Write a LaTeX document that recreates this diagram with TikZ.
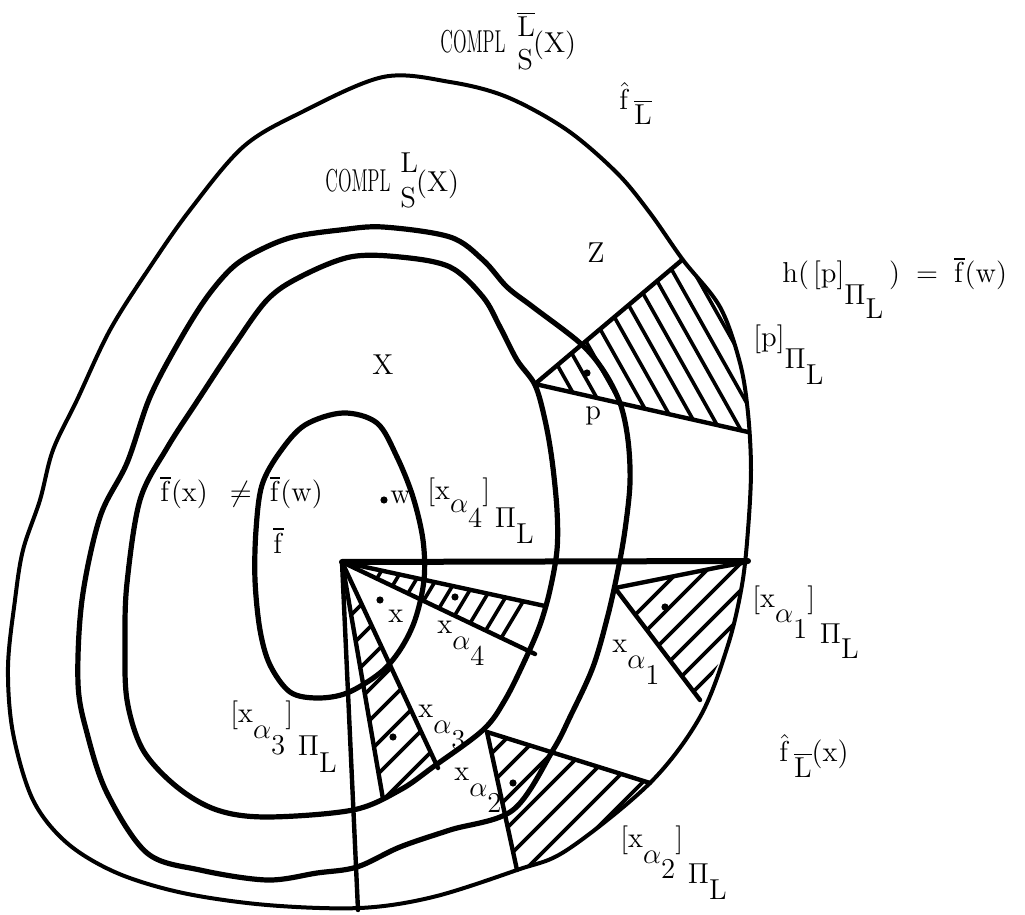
\documentclass[tikz,border=0pt]{standalone}
\usepackage{amsmath}
\usepackage{amssymb}
\usepackage{graphicx}
\usepackage{tikz}

\newcommand{\sunk}[2][8pt]{\raisebox{-#1}{#2}}
\newcommand{\stk}[4][8pt]{\rlap{\raisebox{#2}{#3}}\raisebox{-#1}{#4}}

\begin{document}
\begin{tikzpicture}[x=0.5pt,y=-0.5pt,line cap=round,line join=round,
    rim/.style={line width=2pt},
    ring/.style={line width=2.6pt},
    cut/.style={line width=2.2pt},
    hatch/.style={line width=1.8pt},
    lbl/.style={font=\Large,inner sep=0pt,anchor=base west}]
        \useasboundingbox (0,0) rectangle (1025,915);

        \coordinate (o) at (342,562);
        \coordinate (pl) at (535,384);
        \coordinate (pt) at (682,260);
        \coordinate (pb) at (748,432);
        \coordinate (hr) at (748,561);
        \coordinate (vb) at (358,910);
        \coordinate (a4u) at (545,606);
        \coordinate (a4l) at (535,654);
        \coordinate (a3l) at (383,799);
        \coordinate (a3r) at (438,768);
        \coordinate (q2) at (487,732);
        \coordinate (a2l) at (517,870);
        \coordinate (a2r) at (650,783);
        \coordinate (q1) at (615,588);
        \coordinate (a1t) at (742,563);
        \coordinate (a1b) at (700,700);

        \begin{scope}
            \clip (pl) -- (pt) -- (720,307) -- (740,363) -- (748,413) -- (pb) -- cycle;
            \foreach \c in {352,373,...,541}
                \draw[hatch] ({\c+112.5},200) -- ({\c+264.4},470);
        \end{scope}
        \begin{scope}
            \clip (q1) -- (a1t) -- (740,595) -- (728,645) -- (a1b) -- cycle;
            \foreach \c in {1250,1277,...,1385}
                \draw[hatch] ({\c-500},500) -- ({\c-760},760);
        \end{scope}
        \begin{scope}
            \clip (q2) -- (a2r) -- (600,825) -- (560,852) -- (a2l) -- cycle;
            \foreach \c in {1245,1275,...,1425}
                \draw[hatch] ({\c-700},700) -- ({\c-900},900);
        \end{scope}
        \begin{scope}
            \clip (o) -- (a3r) -- (410,786) -- (a3l) -- cycle;
            \foreach \c in {966,997,...,1183}
                \draw[hatch] ({\c-550},550) -- ({\c-820},820);
        \end{scope}
        \begin{scope}
            \clip (o) -- (a4u) -- (a4l) -- cycle;
            \foreach \c in {724,744,...,884}
                \draw[hatch] ({\c-0.6*540},540) -- ({\c-0.6*680},680);
        \end{scope}

        \draw[rim] plot[smooth cycle,tension=0.55] coordinates {(383,77) (450,82) (507,97) (567,130) (617,173) (650,213) (683,260) (720,307) (740,363) (748,413) (751,470) (748,530) (742,585) (728,645) (700,717) (650,783) (567,850) (517,870) (433,897) (360,908) (267,905) (183,893) (117,873) (67,843) (33,800) (13,733) (8,667) (15,600) (23,550) (40,500) (53,450) (77,400) (110,330) (150,267) (190,210) (243,147) (300,113)};
        \draw[ring] plot[smooth cycle,tension=0.55] coordinates {(383,227) (450,237) (483,260) (507,287) (533,307) (580,343) (603,370) (620,403) (628,440) (630,483) (625,530) (618,570) (608,615) (593,667) (570,717) (553,750) (513,810) (450,830) (400,847) (357,867) (317,873) (267,880) (200,870) (147,853) (107,793) (87,733) (78,683) (82,600) (100,517) (127,463) (150,397) (180,340) (207,297) (233,267) (260,250) (293,237) (340,230)};
        \draw[ring] plot[smooth cycle,tension=0.55] coordinates {(300,277) (350,257) (400,257) (450,267) (483,297) (500,327) (517,360) (535,385) (545,420) (552,460) (557,510) (557,550) (550,590) (540,625) (525,660) (505,700) (483,730) (433,767) (400,790) (353,810) (267,817) (217,810) (177,787) (143,750) (127,700) (125,640) (127,583) (140,500) (167,448) (200,397) (233,347) (267,300)};
        \draw[ring] plot[smooth cycle,tension=0.55] coordinates {(343,413) (377,423) (397,457) (413,497) (423,540) (424,580) (415,620) (400,650) (380,673) (347,693) (317,698) (290,692) (270,665) (260,630) (255,580) (256,530) (262,485) (280,452) (305,425)};

        \draw[cut] (pl) -- (pt);
        \draw[cut] (pl) -- (pb);
        \draw[line width=3pt] (o) -- (hr);
        \draw[cut] (o) -- (vb);
        \draw[cut] (o) -- (a4u);
        \draw[cut] (o) -- (a4l);
        \draw[cut] (o) -- (a3l);
        \draw[cut] (o) -- (a3r);
        \draw[cut] (q2) -- (a2l);
        \draw[cut] (q2) -- (a2r);
        \draw[cut] (q1) -- (720,567) -- (a1t);
        \draw[cut] (q1) -- (a1b);

        \fill (587,373) circle (1.8pt);
        \fill (384,500) circle (1.8pt);
        \fill (380,600) circle (1.8pt);
        \fill (455,597) circle (1.8pt);
        \fill (393,737) circle (1.8pt);
        \fill (513,783) circle (1.8pt);
        \fill (665,607) circle (1.8pt);

        \node[lbl] (complbar) at (440,53) {\scalebox{0.62}[1.1]{COMPL}\hspace{6pt}\stk[8.5pt]{8pt}{$\overline{\mathrm{L}}$}{S}(X)};
        \node[lbl] (fhat) at (619,110) {$\hat{\mathrm{f}}$\hspace{2pt}\sunk[7.5pt]{$\overline{\mathrm{L}}$}};
        \node[lbl] (compl) at (325,192) {\scalebox{0.62}[1.1]{COMPL}\hspace{5pt}\stk{9.5pt}{L}{S}(X)};
        \node[lbl] (zlab) at (587,263) {Z};
        \node[lbl] (heq) at (782,283) {h(\hspace{2pt}[p]\sunk[11pt]{$\Pi$\sunk[7pt]{L}}\hspace{3pt})\hspace{8pt}=\hspace{8pt}$\overline{\mathrm{f}}$(w)};
        \node[lbl] (pcls) at (753,347) {[p]\sunk[11pt]{$\Pi$\sunk[8pt]{L}}};
        \node[lbl] (xlab) at (372,375) {X};
        \node[lbl] (plab) at (585,420) {p};
        \node[lbl] (fneq) at (160,502) {$\overline{\mathrm{f}}$(x)\hspace{11pt}$\neq$\hspace{9pt}$\overline{\mathrm{f}}$(w)};
        \node[lbl] (fbar) at (273,553) {$\overline{\mathrm{f}}$};
        \node[lbl] (wlab) at (390,503) {w};
        \node[lbl] (xa4cls) at (427,500) {[x\sunk[6pt]{$\alpha$\sunk{4}}]\,\sunk[14pt]{$\Pi$\sunk{L}}};
        \node[lbl] (xpt) at (388,623) {x};
        \node[lbl] (xa4) at (437,633) {x\sunk{$\alpha$\sunk{4}}};
        \node[lbl] (xa1) at (612,653) {x\sunk{$\alpha$\sunk{1}}};
        \node[lbl] (xa1cls) at (752,607) {[x\sunk{$\alpha$\sunk{1}}]\,\sunk[18pt]{$\Pi$\sunk{L}}};
        \node[lbl] (fhatx) at (779,762) {$\hat{\mathrm{f}}$\hspace{2pt}\sunk{$\overline{\mathrm{L}}$}(x)};
        \node[lbl] (xa3cls) at (230,722) {[x\sunk{$\alpha$\sunk{3}}]\,\sunk[17pt]{$\Pi$\sunk{L}}};
        \node[lbl] (xa3) at (418,718) {x\sunk{$\alpha$\sunk{3}}};
        \node[lbl] (xa2) at (454,780) {x\sunk{$\alpha$\sunk{2}}};
        \node[lbl] (xa2cls) at (620,847) {[x\sunk{$\alpha$\sunk{2}}]\,\sunk[18pt]{$\Pi$\sunk{L}}};
    \end{tikzpicture}
\end{document}
